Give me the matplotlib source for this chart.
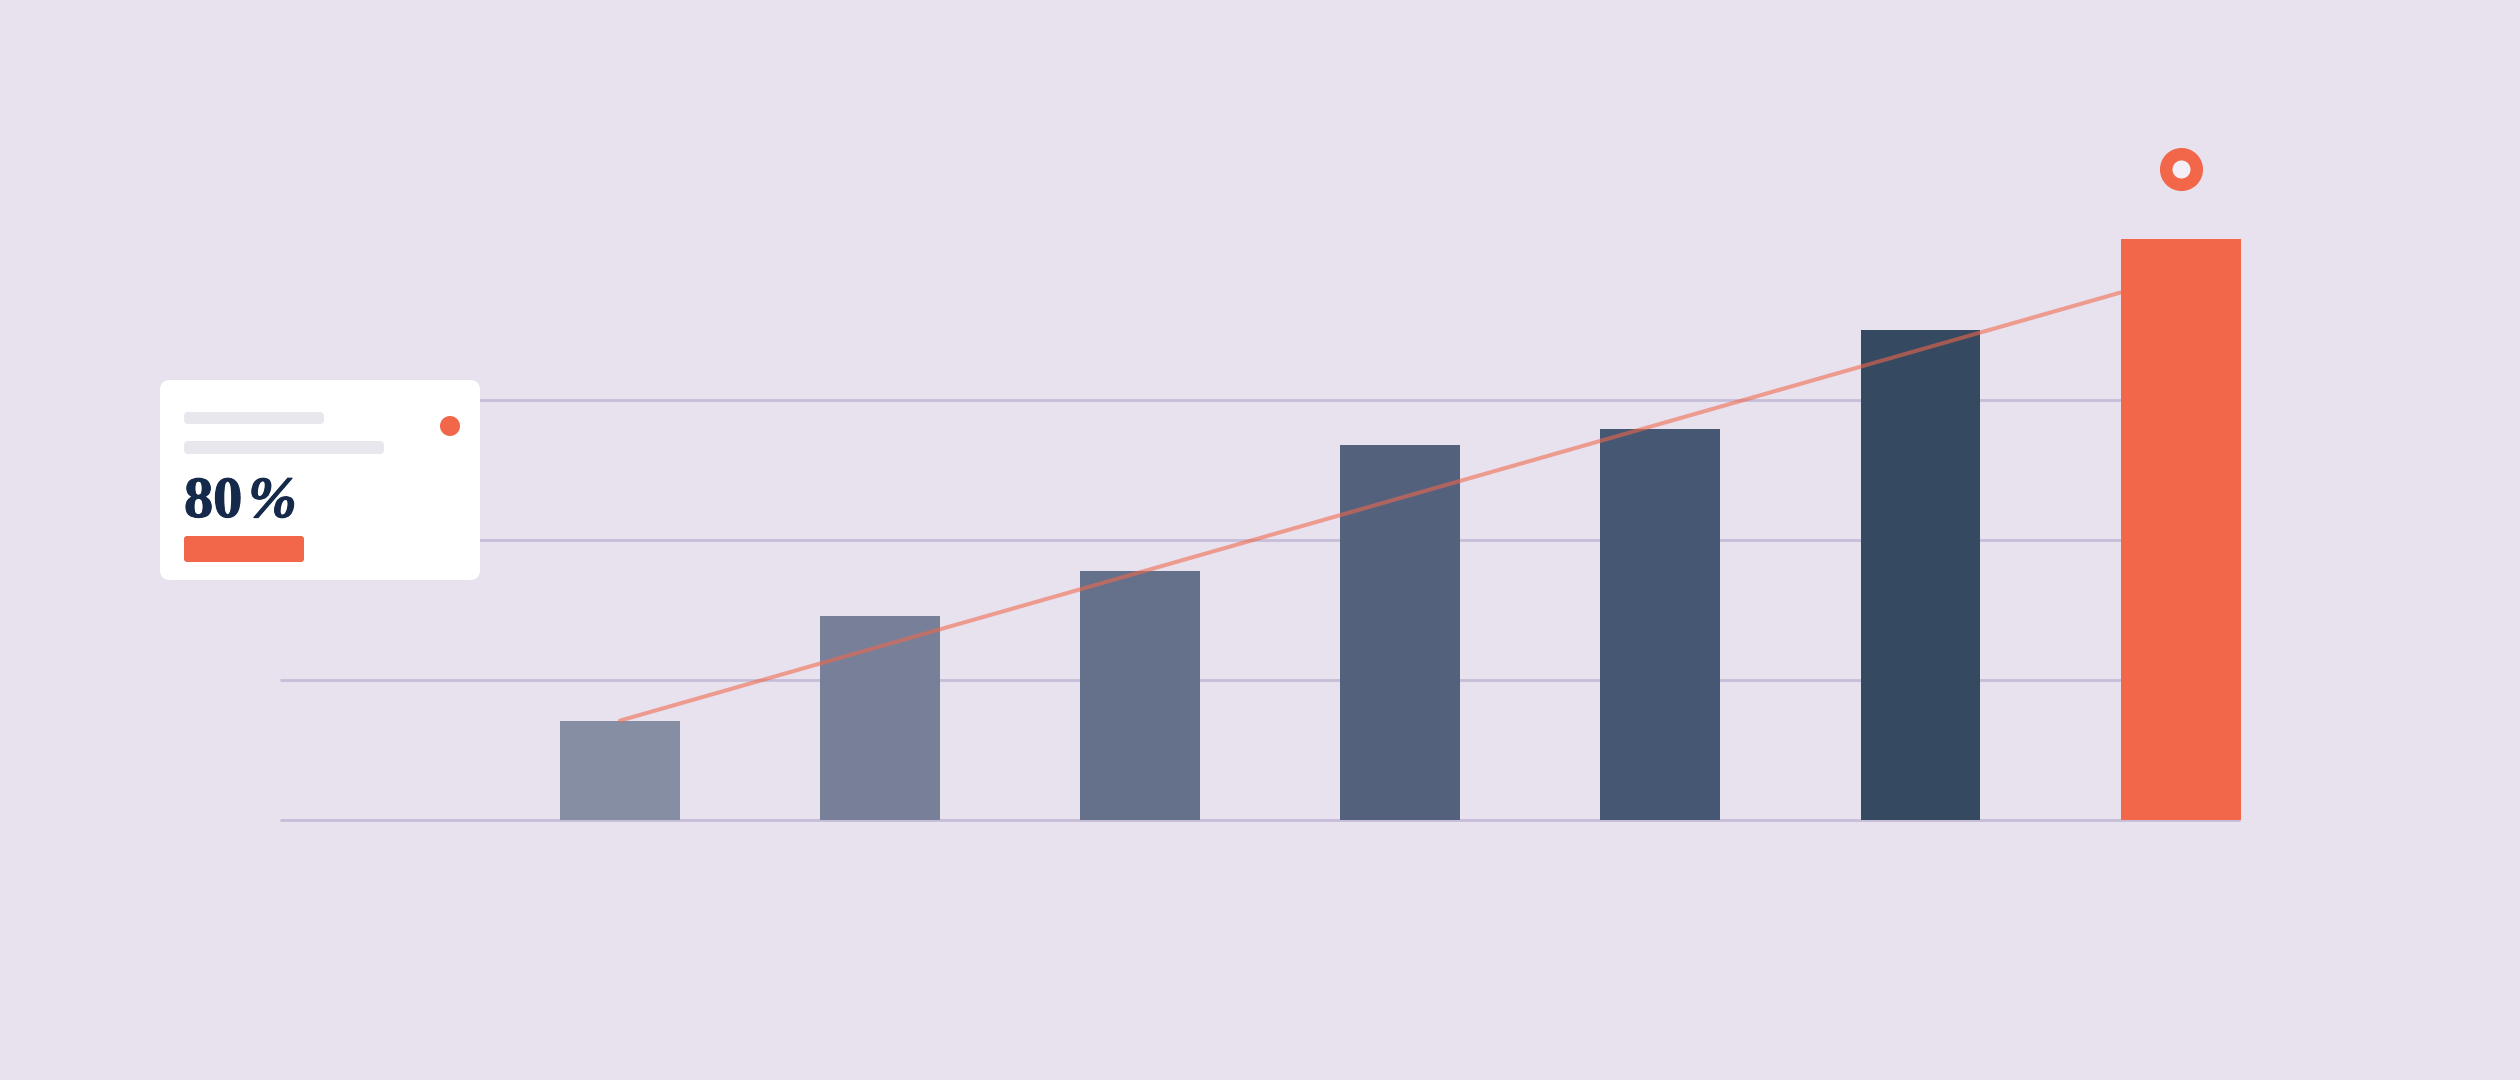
import matplotlib
matplotlib.use("Agg")
import matplotlib.pyplot as plt
import matplotlib.patheffects as pe
from matplotlib.patches import FancyBboxPatch, Circle

# data
bar_values = [7.1, 14.6, 17.8, 26.8, 27.9, 35.0, 41.5]
bar_colors = ['#868EA3', '#777F99', '#65718A', '#54617D', '#455773', '#354961', '#F2674A']
grid_values = [10, 20, 30]
trend_x = [0, 6]
trend_y = [7.1, 38.9]
marker_x = [6]
marker_y = [46.5]
card_number = '80'
card_sign = '%'

bg = '#E8E1EE'
orange = '#F2674A'
navy = '#15294A'

fig = plt.figure(figsize=(12.6, 5.4), dpi=200, facecolor=bg)
ax = fig.add_axes([0, 0, 1, 1])
ax.set_facecolor(bg)
ax.set_xlim(-2.384, 7.305)
ax.set_ylim(-18.57, 58.57)
ax.axis('off')

x = list(range(len(bar_values)))

# grid + baseline
ax.hlines(grid_values, -1.307, 6.0, color='#C6BED8', lw=1.0, zorder=1)
ax.hlines([0], -1.307, 6.23, color='#C6BED8', lw=1.0, zorder=1)

# bars: first six under the trend line, the last one over it
bars = ax.bar(x, bar_values, width=0.461, color=bar_colors, zorder=2)
bars[-1].set_zorder(4)

ax.plot(trend_x, trend_y, color=orange, alpha=0.58, lw=1.45, zorder=3,
        solid_capstyle='round')

ax.plot(marker_x, marker_y, marker='o', ms=11, mfc='#F4EFF6', mec=orange,
        mew=4.5, ls='none', zorder=5)

# info card, drawn in pixel coordinates
cax = fig.add_axes([0, 0, 1, 1], facecolor='none')
cax.set_xlim(0, 2520)
cax.set_ylim(1080, 0)
cax.axis('off')

cax.add_patch(FancyBboxPatch((160, 380), 320, 200,
                             boxstyle='round,pad=0,rounding_size=10',
                             fc='white', ec='none', zorder=6))
cax.add_patch(FancyBboxPatch((184, 412), 140, 12,
                             boxstyle='round,pad=0,rounding_size=4',
                             fc='#E9E7EE', ec='none', zorder=7))
cax.add_patch(FancyBboxPatch((184, 441), 200, 13,
                             boxstyle='round,pad=0,rounding_size=4',
                             fc='#E9E7EE', ec='none', zorder=7))
cax.add_patch(Circle((450, 426), 10, fc=orange, ec='none', zorder=7))

thick = [pe.withStroke(linewidth=0.4, foreground=navy)]
num = cax.text(184, 517, card_number, fontsize=21, fontweight='bold',
               family='Liberation Serif', color=navy, ha='left', va='baseline',
               zorder=7, path_effects=thick)
cax.annotate(card_sign, xy=(1, 0), xycoords=num, xytext=(2, 0),
             textcoords='offset points', fontsize=21, fontweight='bold',
             fontstyle='italic', family='Liberation Serif', color=navy,
             ha='left', va='bottom', zorder=7, path_effects=thick)
cax.add_patch(FancyBboxPatch((184, 536), 120, 26,
                             boxstyle='round,pad=0,rounding_size=3',
                             fc=orange, ec='none', zorder=7))

fig.savefig('out.png', dpi=200, facecolor=bg)
